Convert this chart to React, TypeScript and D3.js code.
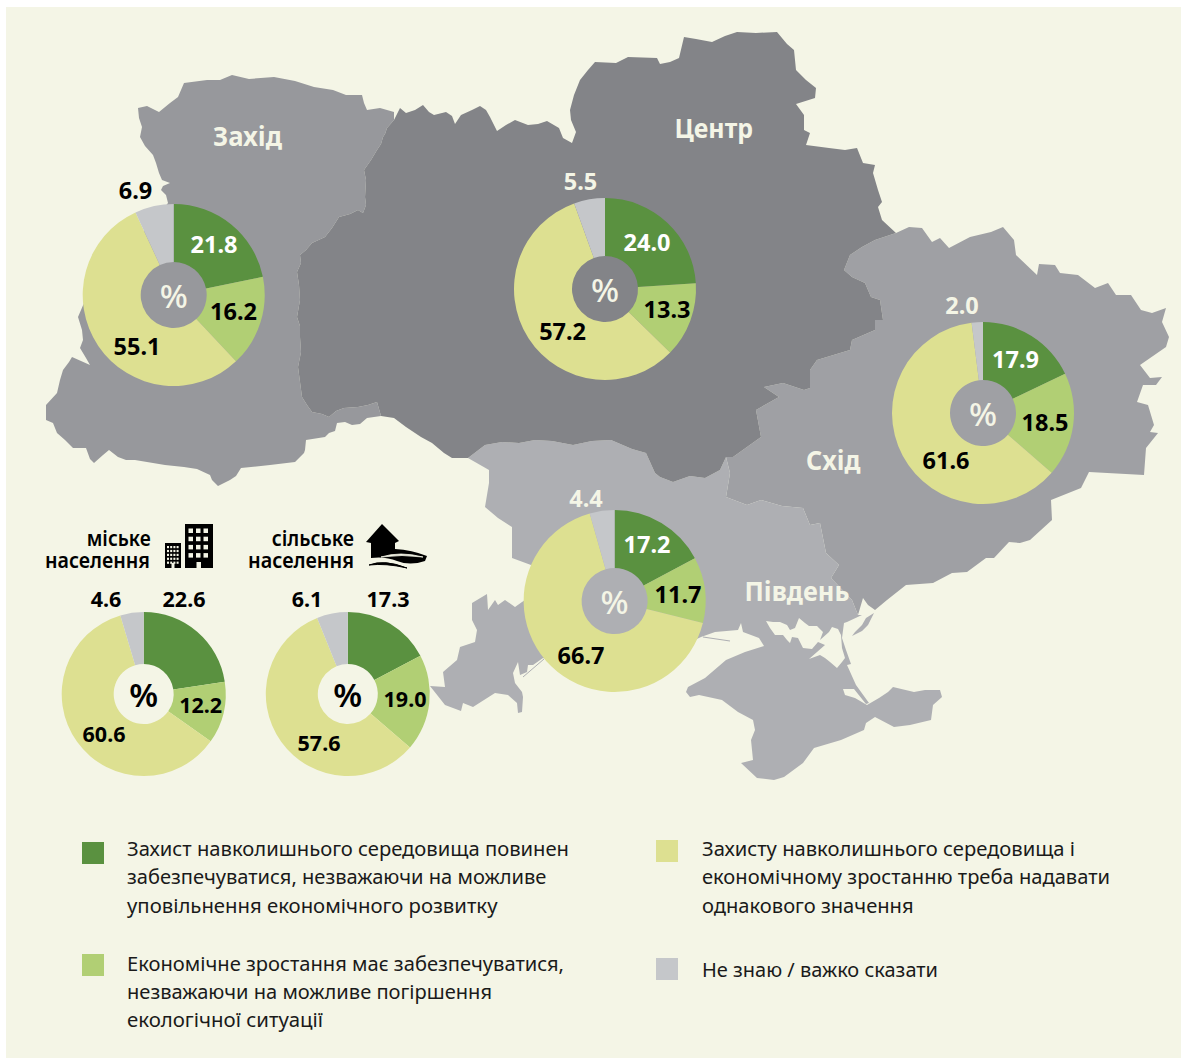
import * as d3 from 'd3';

type Pt = [number, number];

// Survey answers, in percent, same order as the legend
const westValues = [21.8, 16.2, 55.1, 6.9];
const centreValues = [24.0, 13.3, 57.2, 5.5];
const eastValues = [17.9, 18.5, 61.6, 2.0];
const southValues = [17.2, 11.7, 66.7, 4.4];
const urbanValues = [22.6, 12.2, 60.6, 4.6];
const ruralValues = [17.3, 19.0, 57.6, 6.1];

const SLICE_COLORS = ['#5a9140', '#b1cf74', '#dde091', '#c5c7ca'];
const BG = '#f4f5e6';
const FONT = '"Noto Sans", sans-serif';

// Where each pie sits and where its four value labels go [x, baseline]
const PIES = [
  { values: westValues, cx: 173.7, cy: 295, r: 91, hole: 33, holeText: '#f4f5e6', labelSize: 23.5, labels: [[214, 253], [233.5, 320], [137, 355], [135.5, 199]] as Pt[], colors: ['#fff', '#000', '#000', '#000'] },
  { values: centreValues, cx: 605, cy: 289, r: 91, hole: 33, holeText: '#f4f5e6', labelSize: 23.5, labels: [[647, 251], [667, 318], [562.6, 340], [580.5, 190]] as Pt[], colors: ['#fff', '#000', '#000', '#f4f5e6'] },
  { values: eastValues, cx: 983, cy: 413, r: 91, hole: 33, holeText: '#f4f5e6', labelSize: 23.5, labels: [[1015.5, 368], [1045, 431], [946, 469], [962, 314]] as Pt[], colors: ['#fff', '#000', '#000', '#f4f5e6'] },
  { values: southValues, cx: 614.6, cy: 601, r: 91, hole: 33, holeText: '#f4f5e6', labelSize: 23.5, labels: [[647, 553], [678, 603], [581, 664], [586, 507]] as Pt[], colors: ['#fff', '#000', '#000', '#f4f5e6'] },
  { values: urbanValues, cx: 143.7, cy: 694, r: 82, hole: 30, holeText: '#000', labelSize: 21.5, labels: [[184, 607], [200.7, 713], [104, 742], [106, 607]] as Pt[], colors: ['#000', '#000', '#000', '#000'] },
  { values: ruralValues, cx: 347.8, cy: 694, r: 82, hole: 30, holeText: '#000', labelSize: 21.5, labels: [[388, 607], [405, 707], [319, 751], [307, 607]] as Pt[], colors: ['#000', '#000', '#000', '#000'] },
];

// Region captions: text, left x, right x, baseline
const REGION_LABELS: [string, number, number, number][] = [
  ['Захід', 213, 282, 146],
  ['Центр', 674.5, 753, 138],
  ['Схід', 806, 860.5, 470],
  ['Південь', 744.5, 849.4, 601],
];

// Legend text lines: text, left x, right x, baseline
const LEGEND_LINES: [string, number, number, number][] = [
  ['Захист навколишнього середовища повинен', 127, 569, 855.7],
  ['забезпечуватися, незважаючи на можливе', 127, 546.4, 884],
  ['уповільнення економічного розвитку', 127, 497.5, 913],
  ['Економічне зростання має забезпечуватися,', 127, 564, 970.7],
  ['незважаючи на можливе погіршення', 127, 492, 999],
  ['екологічної ситуації', 127, 323, 1027],
  ['Захисту навколишнього середовища і', 702, 1075, 855.7],
  ['економічному зростанню треба надавати', 702, 1110, 884],
  ['однакового значення', 702, 913.6, 913],
  ['Не знаю / важко сказати', 702, 938, 977],
];
const LEGEND_SWATCHES: [number, number][] = [[82, 842], [82, 954], [656, 840], [656, 958]];

// Two-line headings above the lower pies, each line: text, left x, right x, baseline
const HEADERS: [string, number, number, number][][] = [
  [['міське', 86.7, 150.7, 546], ['населення', 45, 150, 567.7]],
  [['сільське', 271.7, 354, 546], ['населення', 248, 354, 567.7]],
];

// --- map outlines ---
const westCentreBorder: Pt[] = [
  [394, 120], [387, 128], [385, 134], [383, 137], [381, 144], [377, 150], [371, 160], [364, 170], [366, 180], [365, 197], [366, 205], [363, 213],
  [358, 210], [350, 214], [339, 217], [332, 228], [325, 237], [312, 243], [306, 250], [300, 255], [301, 263], [297, 272], [299, 285], [300, 300],
  [297, 317], [300, 326], [300, 337], [301, 352], [298, 367], [300, 382], [302, 397], [307, 405], [312, 412], [322, 414], [329, 417], [336, 411],
  [344, 408], [358, 407], [368, 405], [377, 402], [381, 416],
];
const westOutline: Pt[] = [
  [184, 83], [207, 80], [220, 80], [232, 75], [249, 79], [274, 77], [295, 81], [314, 87], [333, 90], [346, 95], [362, 95], [364, 103], [367, 110],
  [380, 108], [394, 112], ...westCentreBorder,
  [367, 418], [360, 424], [352, 425], [345, 422], [337, 423], [335, 431], [329, 433], [325, 437], [306, 440], [305, 450], [304, 453], [295, 462],
  [270, 465], [241, 468], [236, 476], [230, 480], [218, 486], [212, 480], [210, 475], [197, 469], [184, 467], [165, 465], [153, 463], [135, 460],
  [126, 460], [118, 457], [109, 450], [103, 455], [94, 463], [90, 459], [86, 448], [73, 448], [65, 440], [57, 433], [53, 423], [46, 420], [46, 405],
  [57, 393], [60, 380], [63, 370], [69, 362], [72, 357], [90, 365], [86, 358], [80, 348], [83, 340], [82, 330], [78, 317], [84, 303],
  [168, 203], [166, 195], [161, 190], [163, 186], [170, 183], [162, 180], [159, 173], [156, 163], [153, 155], [145, 146], [140, 137], [142, 127],
  [139, 118], [138, 108], [147, 106], [159, 112], [170, 103], [178, 97],
];
const centreEastBorder: Pt[] = [
  [896, 233], [875, 240], [862, 247], [850, 255], [844, 270], [852, 277], [865, 283], [871, 297], [880, 300], [883, 320], [875, 320], [875, 330],
  [852, 340], [850, 350], [817, 360], [810, 370], [810, 388], [804, 390], [783, 383], [764, 387], [779, 397], [756, 410], [761, 437], [733, 457], [726, 457],
];
const centreSouthBorder: Pt[] = [
  [726, 457], [720, 470], [705, 478], [690, 476], [673, 482], [660, 477], [655, 473], [646, 453], [632, 449], [611, 440], [592, 441], [573, 445],
  [552, 441], [535, 440], [519, 443], [502, 442], [485, 445], [468, 458],
];
const centreOutline: Pt[] = [
  [394, 120], [400, 108], [406, 113], [415, 110], [423, 105], [429, 112], [434, 115], [446, 112], [452, 116], [455, 124], [461, 115], [472, 110],
  [480, 106], [486, 110], [490, 117], [497, 131], [506, 125], [515, 120], [528, 125], [538, 124], [547, 121], [559, 128], [563, 138], [572, 143],
  [576, 132], [571, 120], [570, 110], [574, 95], [580, 80], [588, 70], [595, 62], [616, 63], [628, 57], [657, 58], [660, 64], [670, 62], [679, 58],
  [684, 37], [696, 39], [712, 42], [725, 36], [737, 32], [756, 33], [777, 32], [787, 44], [794, 50], [796, 70], [806, 80], [816, 88], [815, 98],
  [796, 104], [804, 115], [804, 130], [810, 133], [806, 145], [829, 148], [845, 150], [857, 148], [863, 163], [875, 165], [873, 173], [878, 190],
  [882, 202], [878, 207], [882, 220], ...centreEastBorder, ...centreSouthBorder.slice(1),
  [463, 458], [452, 458], [444, 453], [432, 443], [421, 437], [406, 427], [394, 418],
  ...westCentreBorder.slice().reverse(),
];
const eastSouthBorder: Pt[] = [
  [726, 457], [730, 473], [726, 497], [747, 505], [761, 500], [782, 506], [803, 508], [810, 525], [820, 523], [826, 553], [839, 565], [831, 578], [852, 600], [858, 615],
];
const eastOutline: Pt[] = [
  [896, 233], [909, 227], [922, 228], [932, 242], [940, 238], [949, 248], [970, 237], [991, 232], [1003, 227], [1014, 240], [1016, 255], [1037, 275],
  [1039, 264], [1055, 265], [1060, 273], [1078, 275], [1095, 288], [1108, 283], [1116, 295], [1131, 295], [1141, 310], [1152, 313], [1166, 308],
  [1162, 322], [1169, 337], [1166, 347], [1140, 365], [1150, 378], [1162, 377], [1156, 385], [1143, 385], [1137, 402], [1148, 405], [1154, 425],
  [1150, 432], [1158, 433], [1146, 448], [1144, 475], [1089, 472], [1081, 488], [1051, 500], [1052, 520], [1030, 540], [1020, 543], [1009, 542],
  [994, 558], [986, 558], [967, 572], [952, 573], [933, 583], [906, 585], [887, 600], [875, 610], [868, 605], [863, 598], [858, 615],
  ...eastSouthBorder.slice().reverse(), ...centreEastBorder.slice().reverse(),
];
const southOutline: Pt[] = [
  ...centreSouthBorder.slice().reverse(), ...eastSouthBorder.slice(1),
  [862, 615], [847, 622], [844, 623], [842, 638], [846, 650], [851, 664], [847, 665], [856, 685], [869, 703], [866, 704], [854, 689], [843, 689],
  [845, 695], [855, 698], [867, 705], [879, 698], [888, 692], [893, 687], [914, 692], [925, 690], [940, 690], [942, 697], [933, 705], [931, 720],
  [910, 725], [894, 727], [875, 717], [866, 723], [864, 730], [841, 740], [814, 748], [803, 763], [784, 777], [774, 780], [757, 778], [741, 763],
  [753, 760], [751, 740], [755, 730], [753, 720], [738, 712], [722, 700], [699, 695], [690, 697], [686, 692], [688, 687], [705, 678], [726, 660],
  [745, 652], [764, 646], [759, 638], [743, 632], [741, 623], [738, 630], [715, 632], [701, 637], [610, 680],
  [543, 658], [533, 665], [528, 665], [527, 672], [520, 675], [518, 662], [513, 673], [515, 683], [522, 692], [523, 697], [522, 712], [518, 713],
  [517, 703], [508, 695], [495, 693], [473, 707], [463, 703], [461, 711], [445, 705], [430, 686], [445, 687], [443, 672], [457, 660], [460, 647],
  [475, 642], [477, 630], [472, 620], [472, 603], [487, 594], [488, 610], [495, 600], [498, 605], [505, 600], [515, 607], [522, 602], [540, 590],
  [531, 565], [512, 558], [512, 527], [498, 518], [485, 507], [489, 483], [489, 470],
];
const syvashWater: Pt[] = [
  [766, 621], [773, 622], [780, 622], [787, 625], [790, 630], [795, 628], [799, 618], [805, 623], [809, 626], [817, 626], [823, 632], [820, 640],
  [829, 632], [832, 627], [838, 629], [841, 635], [842, 648], [845, 658], [842, 662], [837, 668], [830, 662], [825, 658], [820, 655], [809, 659],
  [825, 645], [818, 642], [812, 649], [803, 648], [798, 638], [792, 637], [790, 643], [787, 640], [783, 635], [775, 635], [770, 628],
];
const fedotovaSpit: Pt[] = [[874, 613], [868, 625], [862, 631], [852, 636], [855, 632], [862, 625], [866, 618]];

const REGIONS: [Pt[], string][] = [
  [westOutline, '#97989c'],
  [eastOutline, '#9fa0a4'],
  [southOutline, '#aeafb3'],
  [centreOutline, '#838488'],
];

const outline = d3.line<Pt>().curve(d3.curveLinearClosed);
const stroke = d3.line<Pt>();

function Pie({ spec }: { spec: (typeof PIES)[number] }) {
  const slices = d3.pie<number>().sort(null)(spec.values);
  const arc = d3.arc<d3.PieArcDatum<number>>().innerRadius(spec.hole).outerRadius(spec.r);
  const pct = d3.format('.1f');
  return (
    <g>
      <g transform={`translate(${spec.cx},${spec.cy})`}>
        {slices.map((s, i) => (
          <path key={i} d={arc(s) ?? ''} fill={SLICE_COLORS[i]} />
        ))}
      </g>
      <text x={spec.cx} y={spec.cy + 13} textAnchor="middle" fontSize={33} fontWeight={spec.hole === 30 ? 600 : 500} fill={spec.holeText}>%</text>
      {spec.values.map((v, i) => (
        <text key={i} x={spec.labels[i][0]} y={spec.labels[i][1]} textAnchor="middle" fontSize={spec.labelSize} fontWeight={700} fill={spec.colors[i]}>
          {pct(v)}
        </text>
      ))}
    </g>
  );
}

function CityIcon() {
  const small = d3.range(5).flatMap((r) => d3.range(4).map((c) => [167 + c * 3.2, 546 + r * 3.9]));
  const big = d3.range(4).flatMap((r) => d3.range(3).map((c) => [188.5 + c * 7.5, 528.5 + r * 8.2]));
  return (
    <g>
      <rect x={165} y={543} width={16} height={25} fill="#000" />
      <rect x={185} y={524} width={28} height={44} fill="#000" />
      {small.map(([x, y], i) => <rect key={i} x={x} y={y} width={2} height={2.2} fill={BG} />)}
      {big.map(([x, y], i) => <rect key={i} x={x} y={y} width={4.5} height={4.5} fill={BG} />)}
      <rect x={171.5} y={563} width={3} height={5} fill={BG} />
      <rect x={196.5} y={562} width={4.5} height={6} fill={BG} />
    </g>
  );
}

function VillageIcon() {
  return (
    <g fill="#000">
      <path d="M382,524 L399,541 L395,543 L395,549 Q412,550 427,556 L425,561 Q410,566 397,561 Q385,556 371,558 L371,543 L366,542 Z" />
      <path d="M381,557 Q400,551 423,557 Q402,554 381,557 Z" fill={BG} stroke={BG} strokeWidth={0.8} />
      <path d="M369,565 Q384,559 407,568 Q386,563 369,565 Z" stroke="#000" strokeWidth={1} />
    </g>
  );
}

export default function App() {
  return (
    <svg
      width={1181}
      height={1059}
      viewBox="0 0 1181 1059"
      style={{ position: 'absolute', left: 0, top: 0, display: 'block', background: '#fff', fontFamily: FONT }}
    >
      <rect x={6} y={7} width={1175} height={1051} fill={BG} />

      {REGIONS.map(([pts, color], i) => (
        <path key={i} d={outline(pts) ?? ''} fill={color} />
      ))}
      <path d={outline(syvashWater) ?? ''} fill={BG} />
      <path d={outline(fedotovaSpit) ?? ''} fill="#aeafb3" />
      <path d={stroke([[703, 637], [730, 641]]) ?? ''} stroke="#aeafb3" strokeWidth={1.2} fill="none" />
      <path d={stroke([[544, 659], [523, 677]]) ?? ''} stroke="#aeafb3" strokeWidth={1} fill="none" />

      {REGION_LABELS.map(([t, x0, x1, y]) => (
        <text key={t} x={x0} y={y} fontSize={26} fontWeight={700} fill={BG} textLength={x1 - x0} lengthAdjust="spacingAndGlyphs">{t}</text>
      ))}

      {PIES.map((p, i) => <Pie key={i} spec={p} />)}

      {HEADERS.map((lines, i) => (
        <text key={i} fontSize={22} fontWeight={600} fill="#000">
          {lines.map(([t, x0, x1, y]) => (
            <tspan key={t} x={x0} y={y} textLength={x1 - x0} lengthAdjust="spacingAndGlyphs">{t}</tspan>
          ))}
        </text>
      ))}
      <CityIcon />
      <VillageIcon />

      {LEGEND_SWATCHES.map(([x, y], i) => (
        <rect key={i} x={x} y={y} width={22} height={22} fill={SLICE_COLORS[i]} />
      ))}
      {LEGEND_LINES.map(([t, x0, x1, y], i) => (
        <text key={i} x={x0} y={y} fontSize={20} fill="#1a1a1a" textLength={x1 - x0} lengthAdjust="spacingAndGlyphs">{t}</text>
      ))}
    </svg>
  );
}
